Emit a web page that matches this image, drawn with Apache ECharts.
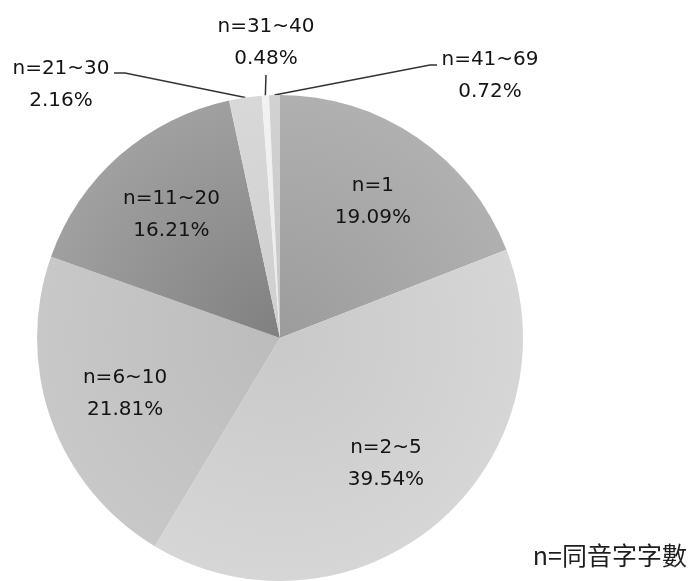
<!DOCTYPE html>
<html>
<head>
<meta charset="utf-8">
<script src="https://cdn.jsdelivr.net/npm/echarts@6/dist/echarts.min.js"></script>
<style>
  html, body { margin: 0; padding: 0; background: #fff; }
  #chart { width: 696px; height: 581px; }
</style>
</head>
<body>
<div id="chart"></div>
<script>
// 同音字字數 分布
const groups = ['n=1', 'n=2~5', 'n=6~10', 'n=11~20', 'n=21~30', 'n=31~40', 'n=41~69'];
const shares = [19.09, 39.54, 21.81, 16.21, 2.16, 0.48, 0.72];
// inner / outer shade of each slice
const shadeIn = ['#9c9c9c', '#c9c9c9', '#bcbcbc', '#808080', '#cfcfcf', '#eaeaea', '#c6c6c6'];
const shadeOut = ['#b0b0b0', '#d6d6d6', '#c8c8c8', '#a0a0a0', '#d8d8d8', '#f2f2f2', '#d2d2d2'];
const noteText = 'n=同音字字數';

const CX = 280, CY = 338, R = 243;
const FONT = 'DejaVu Sans';

// where the small slices put their text, relative to the pie centre
const outsideSpots = {
  4: { label: [-219, -253], bend: [-155, -265], end: [-166, -265] },
  5: { label: [-14, -295], bend: [-14, -263], end: [-14, -263] },
  6: { label: [210, -262], bend: [150, -273], end: [157, -273] }
};

const fmt = p => p.name + '\n' + shares[p.dataIndex].toFixed(2) + '%';

const chart = echarts.init(document.getElementById('chart'));

const mainData = groups.map((g, i) => ({
  name: g,
  value: shares[i],
  itemStyle: {
    color: {
      type: 'radial', x: CX, y: CY, r: R, global: true,
      colorStops: [
        { offset: 0, color: shadeIn[i] },
        { offset: 1, color: shadeOut[i] }
      ]
    }
  },
  label: { show: i >= 4 },
  labelLine: { show: i >= 4 }
}));

const labelData = groups.map((g, i) => ({
  name: g,
  value: shares[i],
  label: { show: i < 4 }
}));

chart.setOption({
  animation: false,
  title: {
    text: noteText,
    right: 4,
    bottom: 8,
    textStyle: { fontFamily: 'Noto Sans CJK TC', fontSize: 25, fontWeight: 'normal', color: '#1e1e1e' }
  },
  series: [
    {
      type: 'pie',
      center: [CX, CY],
      radius: R,
      startAngle: 90,
      clockwise: true,
      avoidLabelOverlap: false,
      emphasis: { disabled: true },
      itemStyle: { borderWidth: 0 },
      data: mainData,
      label: {
        position: 'outside',
        formatter: fmt,
        fontFamily: FONT,
        fontSize: 20,
        lineHeight: 32,
        color: '#141414',
        align: 'center'
      },
      labelLine: {
        length: 20,
        length2: 10,
        lineStyle: { color: '#333', width: 1.5 }
      },
      labelLayout: function (params) {
        const s = outsideSpots[params.dataIndex];
        if (!s) return {};
        const pts = params.labelLinePoints;
        const start = pts && pts[0] ? pts[0] : [CX, CY - R];
        return {
          x: CX + s.label[0],
          y: CY + s.label[1],
          align: 'center',
          verticalAlign: 'middle',
          labelLinePoints: [
            [start[0], start[1]],
            [CX + s.bend[0], CY + s.bend[1]],
            [CX + s.end[0], CY + s.end[1]]
          ]
        };
      }
    },
    {
      // transparent ring that carries the labels of the large slices
      type: 'pie',
      center: [CX, CY],
      radius: [80, R],
      startAngle: 90,
      clockwise: true,
      silent: true,
      avoidLabelOverlap: false,
      emphasis: { disabled: true },
      itemStyle: { color: 'rgba(0,0,0,0)', borderWidth: 0 },
      data: labelData,
      label: {
        position: 'inside',
        formatter: fmt,
        fontFamily: FONT,
        fontSize: 20,
        lineHeight: 32,
        color: '#141414'
      },
      labelLine: { show: false }
    }
  ]
});
</script>
</body>
</html>
